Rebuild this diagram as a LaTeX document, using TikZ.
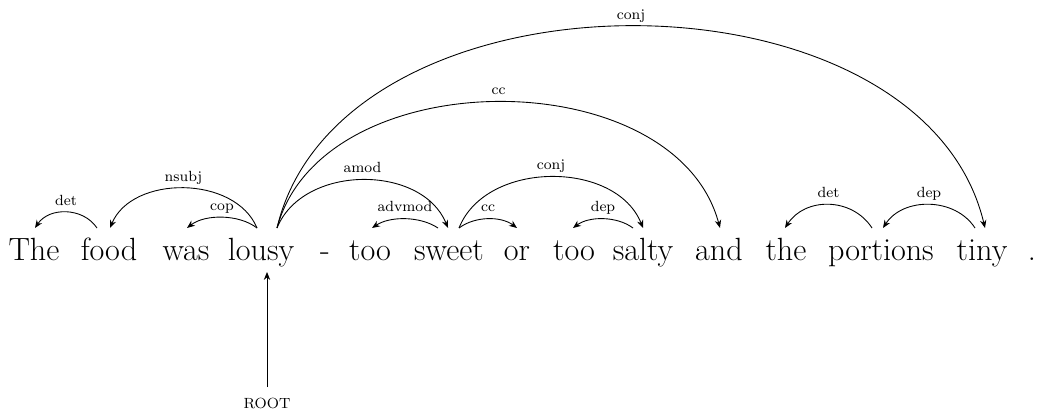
\documentclass[tikz,border=0pt]{standalone}
\usetikzlibrary{arrows.meta}
\begin{document}
\begin{tikzpicture}[x=0.02cm,y=-0.02cm,
  word/.style={anchor=base, inner sep=0pt, font=\fontsize{18.3}{22}\selectfont},
  deparc/.style={line width=0.5pt, -{Stealth[length=4.5pt,width=3.6pt]}},
  lbl/.style={anchor=base, inner sep=0pt, yshift=4pt, font=\fontsize{8.4}{10}\selectfont},
  rootlbl/.style={inner sep=0pt, font=\fontsize{8.4}{10}\selectfont}]
\useasboundingbox (0,0) rectangle (1038,412);
% words
\node[word] (w1) at (34,260) {The};
\node[word] (w2) at (109,260) {food};
\node[word] (w3) at (186,260) {was};
\node[word] (w4) at (261,260) {lousy};
\node[word] (w5) at (325,260) {-};
\node[word] (w6) at (370,260) {too};
\node[word] (w7) at (449,260) {sweet};
\node[word] (w8) at (517,260) {or};
\node[word] (w9) at (574,260) {too};
\node[word] (w10) at (643,260) {salty};
\node[word] (w11) at (719,260) {and};
\node[word] (w12) at (786,260) {the};
\node[word] (w13) at (881,260) {portions};
\node[word] (w14) at (982,260) {tiny};
\node[word] (w15) at (1032,260) {.};
% arc anchor points
\coordinate (The-in) at (35,228);
\coordinate (food-out) at (97,228);
\coordinate (food-in) at (110,228);
\coordinate (was-in) at (187,228);
\coordinate (lousy-outL) at (257,228);
\coordinate (lousy-outR) at (277,228);
\coordinate (lousy-root) at (267,272);
\coordinate (too1-in) at (372,228);
\coordinate (sweet-outL) at (438,228);
\coordinate (sweet-in) at (448,228);
\coordinate (sweet-outR) at (459,228);
\coordinate (or-in) at (517,228);
\coordinate (too2-in) at (573,228);
\coordinate (salty-out) at (633,228);
\coordinate (salty-in) at (643,228);
\coordinate (and-in) at (720,228);
\coordinate (the-in) at (785,228);
\coordinate (portions-out) at (872,228);
\coordinate (portions-in) at (883,228);
\coordinate (tiny-out) at (975,228);
\coordinate (tiny-in) at (985,228);
\coordinate (root-top) at (267,387);
% arcs (leftward: +(-s,-H) and +(s,-H); rightward: +(s,-H) and +(-s,-H))
\draw[deparc] (food-out) .. controls +(-14,-21) and +(14,-21) .. (The-in) node[lbl,pos=0.5] {det};
\draw[deparc] (lousy-outL) .. controls +(-22,-53) and +(22,-53) .. (food-in) node[lbl,pos=0.5] {nsubj};
\draw[deparc] (lousy-outL) .. controls +(-18,-14) and +(18,-14) .. (was-in) node[lbl,pos=0.5] {cop};
\draw[deparc] (lousy-outR) .. controls +(26,-64) and +(-26,-64) .. (sweet-in) node[lbl,pos=0.5] {amod};
\draw[deparc] (sweet-outL) .. controls +(-18,-12) and +(18,-12) .. (too1-in) node[lbl,pos=0.5] {advmod};
\draw[deparc] (sweet-outR) .. controls +(16,-12) and +(-16,-12) .. (or-in) node[lbl,pos=0.5] {cc};
\draw[deparc] (sweet-outR) .. controls +(27,-68) and +(-27,-68) .. (salty-in) node[lbl,pos=0.5] {conj};
\draw[deparc] (salty-out) .. controls +(-16,-12) and +(16,-12) .. (too2-in) node[lbl,pos=0.5] {dep};
\draw[deparc] (lousy-outR) .. controls +(45,-168) and +(-45,-168) .. (and-in) node[lbl,pos=0.5] {cc};
\draw[deparc] (lousy-outR) .. controls +(64,-269) and +(-64,-269) .. (tiny-in) node[lbl,pos=0.5] {conj};
\draw[deparc] (portions-out) .. controls +(-20,-31) and +(20,-31) .. (the-in) node[lbl,pos=0.5] {det};
\draw[deparc] (tiny-out) .. controls +(-20,-31) and +(20,-31) .. (portions-in) node[lbl,pos=0.5] {dep};
% root
\node[rootlbl] (root) at (267,403) {ROOT};
\draw[deparc] (root-top) -- (lousy-root);
\end{tikzpicture}
\end{document}
